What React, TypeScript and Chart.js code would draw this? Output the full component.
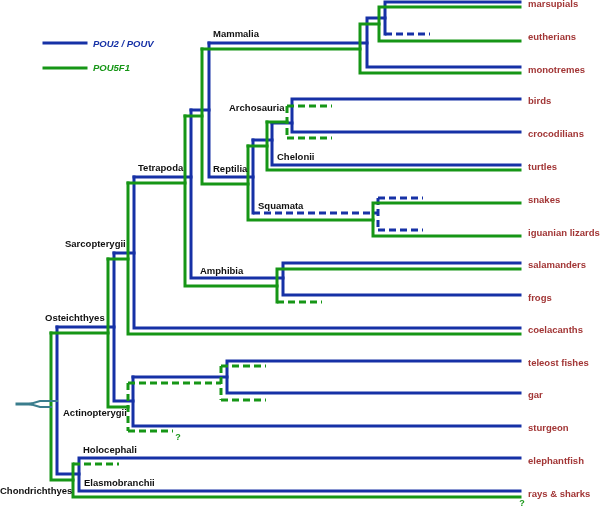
import React, { useEffect, useRef } from "react";
import { Chart, registerables } from "chart.js";

Chart.register(...registerables);

type P = [number, number];

// Gene-tree branches (x = branch depth, y = row position), grouped by gene and style
const bluePaths: P[][] = [
  [[520, 2], [385, 2], [385, 34]],
  [[385, 18], [367, 18], [367, 67], [520, 67]],
  [[209, 43], [367, 43]],
  [[209, 43], [209, 177], [253, 177]],
  [[191, 110], [209, 110]],
  [[253, 140], [253, 213]],
  [[253, 140], [272, 140]],
  [[272, 123], [272, 165], [520, 165]],
  [[272, 123], [292, 123]],
  [[520, 99], [292, 99], [292, 132], [520, 132]],
  [[134, 177], [191, 177]],
  [[191, 110], [191, 278], [283, 278]],
  [[520, 263], [283, 263], [283, 295], [520, 295]],
  [[114, 253], [134, 253]],
  [[134, 177], [134, 328], [520, 328]],
  [[57, 327], [114, 327]],
  [[114, 253], [114, 401], [133, 401]],
  [[133, 377], [133, 426], [520, 426]],
  [[133, 377], [227, 377]],
  [[520, 361], [227, 361], [227, 393], [520, 393]],
  [[57, 327], [57, 474], [79, 474]],
  [[520, 458], [79, 458], [79, 491], [520, 491]],
];

const blueDashed: P[][] = [
  [[385, 34], [430, 34]],
  [[253, 213], [378, 213]],
  [[378, 198], [378, 230]],
  [[378, 198], [423, 198]],
  [[378, 230], [423, 230]],
];

const greenPaths: P[][] = [
  [[520, 7], [379, 7], [379, 41], [520, 41]],
  [[379, 24], [360, 24], [360, 73], [520, 73]],
  [[202, 49], [360, 49]],
  [[202, 49], [202, 184], [248, 184]],
  [[185, 116], [202, 116]],
  [[248, 146], [248, 220], [373, 220]],
  [[248, 146], [267, 146]],
  [[267, 122], [267, 170], [520, 170]],
  [[267, 122], [287, 122]],
  [[520, 203], [373, 203], [373, 236], [520, 236]],
  [[128, 183], [185, 183]],
  [[185, 116], [185, 286], [277, 286]],
  [[520, 269], [277, 269], [277, 302]],
  [[108, 259], [128, 259]],
  [[128, 183], [128, 334], [520, 334]],
  [[51, 333], [108, 333]],
  [[108, 259], [108, 407], [128, 407]],
  [[51, 333], [51, 480], [73, 480]],
  [[73, 464], [73, 497], [520, 497]],
];

const greenDashed: P[][] = [
  [[287, 106], [287, 138]],
  [[287, 106], [332, 106]],
  [[287, 138], [332, 138]],
  [[277, 302], [322, 302]],
  [[128, 383], [128, 431]],
  [[128, 383], [221, 383]],
  [[221, 366], [221, 400]],
  [[221, 366], [266, 366]],
  [[221, 400], [266, 400]],
  [[128, 431], [173, 431]],
  [[73, 464], [119, 464]],
];

const rootStem: P[][] = [[[17, 404], [31, 404]]];
const rootFork: P[][] = [
  [[30, 404], [40, 401], [57, 401]],
  [[30, 404], [40, 407], [51, 407]],
];

const legendBlue: P[] = [[44, 43], [86, 43]];
const legendGreen: P[] = [[44, 68], [86, 68]];

// Leaf taxa and their label rows
const taxa = [
  "marsupials", "eutherians", "monotremes", "birds", "crocodilians", "turtles",
  "snakes", "iguanian lizards", "salamanders", "frogs", "coelacanths",
  "teleost fishes", "gar", "sturgeon", "elephantfish", "rays & sharks",
];
const taxaRows = [4, 37, 70, 101, 134, 167, 200, 233, 265, 298, 330, 363, 395, 428, 461, 494];
const taxaX = 528;

// Clade labels
const clades = [
  "Mammalia", "Archosauria", "Chelonii", "Tetrapoda", "Reptilia", "Squamata",
  "Sarcopterygii", "Amphibia", "Osteichthyes", "Actinopterygii", "Holocephali",
  "Elasmobranchii", "Chondrichthyes",
];
const cladeX = [213, 229, 277, 138, 213, 258, 65, 200, 45, 63, 83, 84, 0];
const cladeY = [34, 108, 157, 168, 169, 206, 244, 271, 318, 413, 450, 483, 491];

const legendLabels = ["POU2 / POUV", "POU5F1"];
const legendLabelY = [44, 68];

const questionMarks: P[] = [[178, 438], [522, 504]];

const BLUE = "#1631a6";
const GREEN = "#169616";
const TEAL = "#3a7d8d";
const RED = "#a23636";
const FONT = "'Liberation Sans', Arial, sans-serif";

function toData(path: P[]) {
  return path.map(([x, y]) => ({ x, y }));
}

export default function App() {
  const ref = useRef<HTMLCanvasElement | null>(null);

  useEffect(() => {
    if (!ref.current) return;
    const mk = (paths: P[][], color: string, width: number, dash: number[] = []) =>
      paths.map((p) => ({
        data: toData(p),
        borderColor: color,
        backgroundColor: color,
        borderWidth: width,
        borderDash: dash,
        borderCapStyle: dash.length ? "butt" : "square",
        borderJoinStyle: "miter",
        showLine: true,
        pointRadius: 0,
        pointHoverRadius: 0,
        fill: false,
        clip: false as any,
      }));

    const datasets: any[] = [
      ...mk(rootFork, TEAL, 2),
      ...mk(rootStem, TEAL, 3),
      ...mk(greenPaths, GREEN, 3),
      ...mk(greenDashed, GREEN, 3, [7, 4]),
      ...mk(bluePaths, BLUE, 3),
      ...mk(blueDashed, BLUE, 3, [7, 4]),
      ...mk([legendBlue], BLUE, 3),
      ...mk([legendGreen], GREEN, 3),
    ];

    const textPlugin = {
      id: "treeText",
      afterDatasetsDraw(chart: any) {
        const { ctx, scales } = chart;
        const px = (v: number) => scales.x.getPixelForValue(v);
        const py = (v: number) => scales.y.getPixelForValue(v);
        ctx.save();
        ctx.textBaseline = "middle";
        ctx.textAlign = "left";
        ctx.fillStyle = RED;
        ctx.font = `bold 9.5px ${FONT}`;
        taxa.forEach((t, i) => ctx.fillText(t, px(taxaX), py(taxaRows[i])));
        ctx.fillStyle = "#111";
        clades.forEach((t, i) => ctx.fillText(t, px(cladeX[i]), py(cladeY[i])));
        ctx.font = `italic bold 9.5px ${FONT}`;
        ctx.fillStyle = BLUE;
        ctx.fillText(legendLabels[0], px(93), py(legendLabelY[0]));
        ctx.fillStyle = GREEN;
        ctx.fillText(legendLabels[1], px(93), py(legendLabelY[1]));
        ctx.font = `bold 9px ${FONT}`;
        ctx.fillStyle = GREEN;
        ctx.textAlign = "center";
        questionMarks.forEach(([x, y]) => ctx.fillText("?", px(x), py(y)));
        ctx.restore();
      },
    };

    const chart = new Chart(ref.current, {
      type: "scatter",
      data: { datasets },
      options: {
        animation: false,
        responsive: false,
        layout: { padding: 0 },
        events: [],
        plugins: { legend: { display: false }, tooltip: { enabled: false } },
        scales: {
          x: { type: "linear", min: 0, max: 600, display: false },
          y: { type: "linear", min: 0, max: 509, reverse: true, display: false },
        },
      },
      plugins: [textPlugin],
    } as any);
    return () => chart.destroy();
  }, []);

  return (
    <div style={{ position: "absolute", left: 0, top: 0, width: 600, height: 509, background: "#fff" }}>
      <canvas ref={ref} width={600} height={509} style={{ display: "block" }} />
    </div>
  );
}
